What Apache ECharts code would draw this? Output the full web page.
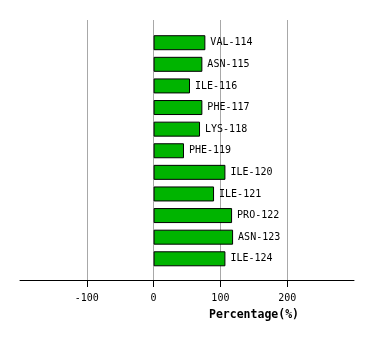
<!DOCTYPE html>
<html>
<head>
<meta charset="utf-8">
<script src="https://cdn.jsdelivr.net/npm/echarts@6/dist/echarts.min.js"></script>
<style>html,body{margin:0;padding:0;background:#fff}#c{width:374px;height:340px}</style>
</head>
<body>
<div id="c"></div>
<script>
var categories = ['VAL-114','ASN-115','ILE-116','PHE-117','LYS-118','PHE-119','ILE-120','ILE-121','PRO-122','ASN-123','ILE-124'];
var values = [77.5, 73, 54.5, 73, 69.5, 45.5, 107.5, 90.5, 117.5, 119, 107.5];
var tickValues = [-100, 0, 100, 200];
var axisName = 'Percentage(%)';

var chart = echarts.init(document.getElementById('c'), null, {renderer: 'canvas'});
var font = 'DejaVu Sans Mono';
chart.setOption({
  animation: false,
  backgroundColor: '#ffffff',
  grid: [
    {left: 20, right: 20, top: 31.9, bottom: 70.4},
    {left: 86.8, right: 86.8, top: 20, bottom: 60}
  ],
  xAxis: [
    {gridIndex: 0, type: 'value', min: -200, max: 300, interval: 100, offset: 10.4,
     axisLine: {show: true, onZero: false, lineStyle: {color: '#000', width: 1}},
     axisTick: {show: false}, axisLabel: {show: false}, splitLine: {show: false},
     name: axisName, nameLocation: 'middle', nameGap: 29,
     nameTextStyle: {fontFamily: font, fontWeight: 'bold', fontSize: 11.5, color: '#000', padding: [0, 0, 0, 134]}},
    {gridIndex: 1, type: 'value', min: tickValues[0], max: tickValues[tickValues.length - 1], interval: 100,
     axisLine: {show: false},
     axisTick: {show: true, length: 7, lineStyle: {color: '#000'}},
     axisLabel: {show: true, margin: 13, fontFamily: font, fontSize: 10, color: '#000'},
     splitLine: {show: true, lineStyle: {color: '#a8a8a8', width: 1}}}
  ],
  yAxis: [
    {gridIndex: 0, type: 'category', inverse: true, data: categories, show: false},
    {gridIndex: 1, type: 'value', min: 0, max: 1, show: false}
  ],
  series: [{
    type: 'bar',
    xAxisIndex: 0, yAxisIndex: 0,
    barWidth: 15,
    z: 5,
    data: values,
    itemStyle: {color: '#00b400', borderColor: '#000', borderWidth: 1},
    label: {show: true, position: 'right', distance: 5, fontFamily: font, fontSize: 10, color: '#000',
      formatter: function (p) { return categories[p.dataIndex]; }}
  }]
});
</script>
</body>
</html>
